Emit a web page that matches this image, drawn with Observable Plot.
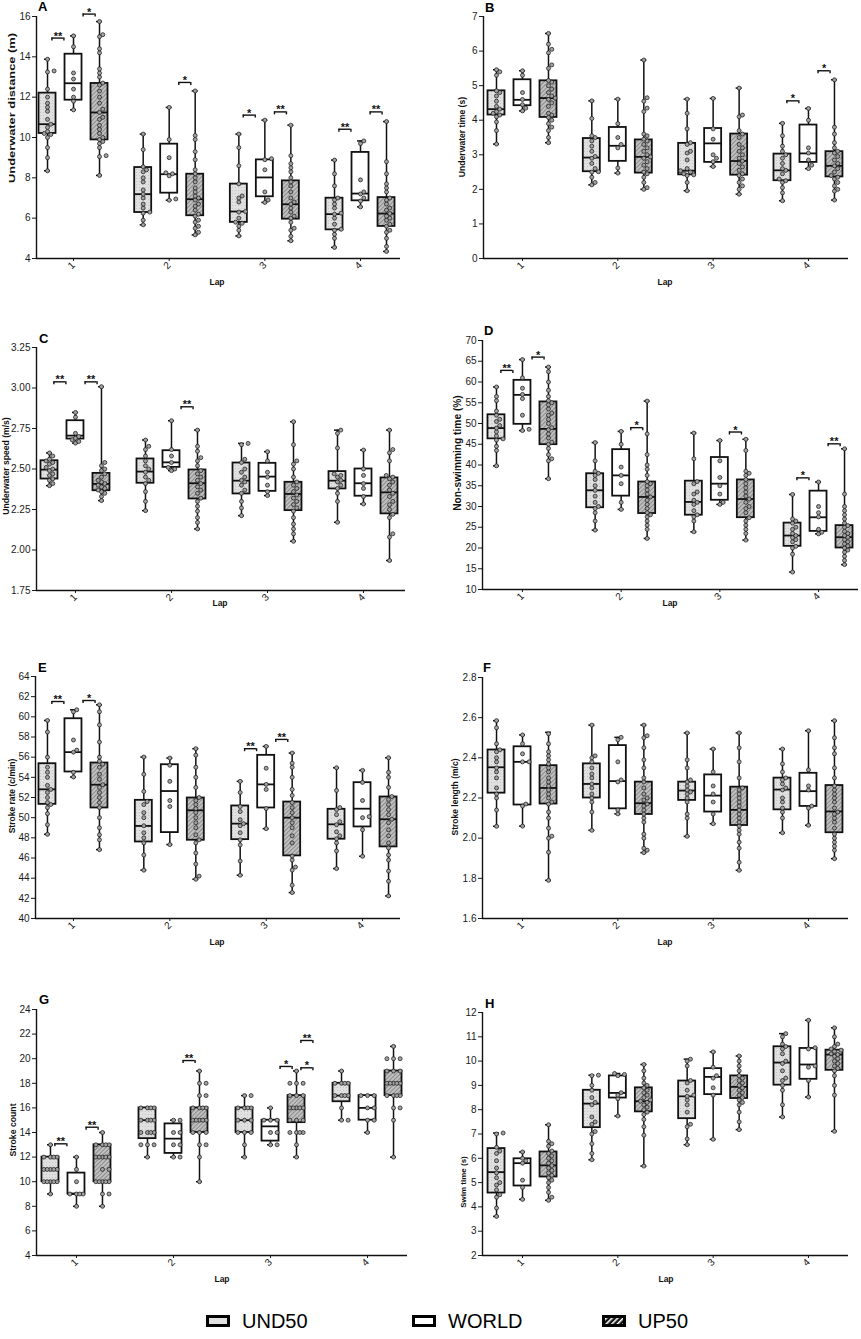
<!DOCTYPE html>
<html><head><meta charset="utf-8">
<script src="https://cdn.jsdelivr.net/npm/d3@7"></script>
<script src="https://cdn.jsdelivr.net/npm/@observablehq/plot@0.6"></script>
<style>
body{margin:0;background:#fff;}
#page{position:relative;width:861px;height:1339px;overflow:hidden;font-family:'Liberation Sans',Arial,sans-serif;}
.panel{position:absolute;}
#overlay{position:absolute;left:0;top:0;pointer-events:none;}
</style></head><body>
<svg width="0" height="0" style="position:absolute">
<defs>
<pattern id="pUnd" width="3" height="3" patternUnits="userSpaceOnUse"><rect width="3" height="3" fill="#e0e0e0"/><rect x="1" y="1" width="1" height="1" fill="#c6c6c6"/></pattern>
<pattern id="pUp" width="3" height="3" patternUnits="userSpaceOnUse" patternTransform="rotate(45)"><rect width="3" height="3" fill="#c0c0c0"/><rect width="1" height="3" fill="#8c8c8c"/></pattern>
<pattern id="pLeg" width="4" height="4" patternUnits="userSpaceOnUse" patternTransform="rotate(45)"><rect width="4" height="4" fill="#111"/><rect width="1.6" height="4" fill="#fff"/></pattern>
</defs>
</svg>
<div id="page"></div>
<script>
// ---------------- DATA ----------------
const laps = [1, 2, 3, 4];
const groups = ["UND50", "WORLD", "UP50"];
// stats rows: [lap, group, min, q1, median, q3, max]

// A: Underwater distance (m)
const labelA = "Underwater distance (m)";
const ticksA = [4, 6, 8, 10, 12, 14, 16];
const statsA = [
  [1,"UND50",8.35,10.2,10.66,12.2,13.88],[1,"WORLD",11.37,11.85,12.69,14.13,15.04],[1,"UP50",8.12,9.88,11.24,12.68,15.75],
  [2,"UND50",5.67,6.28,7.19,8.51,10.17],[2,"WORLD",6.89,7.24,8.18,9.67,11.49],[2,"UP50",5.17,6.12,6.94,8.18,12.31],
  [3,"UND50",5.12,5.79,6.33,7.69,10.17],[3,"WORLD",6.78,7.06,8.02,8.89,10.86],[3,"UP50",4.88,5.95,6.69,7.85,10.61],
  [4,"UND50",4.55,5.42,6.2,6.99,8.88],[4,"WORLD",6.56,6.86,7.22,9.26,9.83],[4,"UP50",4.35,5.59,6.23,7.02,10.79]
];
const ptsA = [
  [1,"UND50",[8.35,9.0,9.5,10.0,10.15,10.2,10.3,10.5,10.66,10.9,11.3,11.5,11.7,12.0,12.4,13.25,13.3,13.88]],
  [1,"WORLD",[11.37,11.8,12.0,12.4,12.9,13.2,14.5,15.04]],
  [1,"UP50",[8.12,9.05,9.1,9.5,9.7,9.8,9.9,10.0,10.2,10.4,10.6,10.9,11.0,11.24,11.4,11.7,12.0,12.3,12.6,12.7,13.0,13.2,13.4,14.2,14.4,15.0,15.1,15.75]],
  [2,"UND50",[5.67,5.9,6.25,6.3,6.5,6.7,7.0,7.19,7.4,7.8,8.0,8.3,8.4,8.55,9.4,10.17]],
  [2,"WORLD",[6.89,6.95,8.1,8.2,8.25,9.0,9.9,11.49]],
  [2,"UP50",[5.17,5.3,5.5,5.6,5.8,5.9,6.1,6.2,6.4,6.6,6.7,6.9,7.0,7.1,7.3,7.5,7.8,8.0,8.2,8.4,8.9,9.3,9.9,10.1,12.31]],
  [3,"UND50",[5.12,5.4,5.6,5.75,5.8,6.0,6.3,6.33,6.8,7.0,7.1,7.7,8.6,9.5,10.17]],
  [3,"WORLD",[6.78,6.9,7.3,8.4,8.9,8.95,10.86]],
  [3,"UP50",[4.88,5.1,5.4,5.5,5.8,6.0,6.1,6.3,6.5,6.7,6.8,7.0,7.3,7.6,7.8,8.0,8.3,8.5,8.7,9.1,10.61]],
  [4,"UND50",[4.55,5.0,5.2,5.4,5.45,5.7,6.0,6.2,6.25,6.5,6.7,6.9,7.0,7.6,8.2,8.88]],
  [4,"WORLD",[6.56,6.85,7.0,7.2,7.3,7.9,9.7,9.83]],
  [4,"UP50",[4.35,4.6,5.0,5.3,5.4,5.6,5.7,5.9,6.0,6.1,6.23,6.4,6.5,6.7,6.9,7.0,7.3,7.5,7.7,8.2,8.8,10.79]]
];
const sigA = [[1,"UW",14.93,"**"],[1,"WP",16.12,"*"],[2,"WP",12.73,"*"],[3,"UW",11.11,"*"],[3,"WP",11.27,"**"],[4,"UW",10.41,"**"],[4,"WP",11.27,"**"]];

// B: Underwater time (s)
const labelB = "Underwater time (s)";
const ticksB = [0, 1, 2, 3, 4, 5, 6, 7];
const statsB = [
  [1,"UND50",3.31,4.15,4.32,4.85,5.46],[1,"WORLD",4.27,4.42,4.59,5.17,5.43],[1,"UP50",3.35,4.08,4.64,5.14,6.51],
  [2,"UND50",2.13,2.51,2.92,3.47,4.56],[2,"WORLD",2.47,2.81,3.26,3.79,4.61],[2,"UP50",2.0,2.47,2.94,3.43,5.74],
  [3,"UND50",1.96,2.42,2.54,3.33,4.61],[3,"WORLD",2.66,2.78,3.33,3.76,4.63],[3,"UP50",1.86,2.41,2.82,3.6,4.93],
  [4,"UND50",1.67,2.25,2.55,3.02,3.91],[4,"WORLD",2.6,2.78,3.04,3.86,4.34],[4,"UP50",1.69,2.36,2.68,3.09,5.17]
];
const ptsB = [
  [1,"UND50",[3.31,3.7,3.95,4.1,4.15,4.2,4.25,4.32,4.4,4.55,4.7,4.8,4.85,5.3,5.4,5.46]],
  [1,"WORLD",[4.27,4.35,4.45,4.6,4.8,5.3,5.43]],
  [1,"UP50",[3.35,3.5,3.7,3.8,3.9,4.0,4.08,4.15,4.2,4.4,4.5,4.6,4.64,4.7,4.8,4.9,5.0,5.1,5.15,5.5,5.6,5.95,6.05,6.2,6.51]],
  [2,"UND50",[2.13,2.2,2.35,2.5,2.51,2.6,2.75,2.9,2.95,3.1,3.25,3.4,3.5,3.55,4.05,4.56]],
  [2,"WORLD",[2.47,2.62,3.2,3.3,3.5,3.9,4.61]],
  [2,"UP50",[2.0,2.05,2.2,2.35,2.45,2.5,2.6,2.7,2.8,2.9,2.94,3.0,3.1,3.2,3.3,3.4,3.45,3.55,3.6,4.25,4.35,4.55,4.65,5.74]],
  [3,"UND50",[1.96,2.2,2.4,2.42,2.45,2.5,2.54,2.6,2.85,3.05,3.1,3.3,3.35,3.75,4.2,4.61]],
  [3,"WORLD",[2.66,2.8,2.9,3.0,3.45,3.75,4.63]],
  [3,"UP50",[1.86,2.0,2.1,2.2,2.3,2.4,2.45,2.55,2.65,2.75,2.82,2.9,3.0,3.1,3.2,3.3,3.5,3.6,3.7,4.1,4.15,4.93]],
  [4,"UND50",[1.67,1.9,2.05,2.2,2.25,2.3,2.45,2.55,2.6,2.75,2.9,3.0,3.1,3.25,3.55,3.91]],
  [4,"WORLD",[2.6,2.7,2.85,3.05,3.2,4.0,4.34]],
  [4,"UP50",[1.69,1.95,2.0,2.1,2.2,2.3,2.35,2.4,2.5,2.6,2.68,2.75,2.85,2.95,3.05,3.1,3.2,3.35,3.6,3.8,5.17]]
];
const sigB = [[4,"UW",4.56,"*"],[4,"WP",5.43,"*"]];

// C: Underwater speed (m/s)
const labelC = "Underwater speed (m/s)";
const ticksC = [1.75, 2.0, 2.25, 2.5, 2.75, 3.0, 3.25];
const statsC = [
  [1,"UND50",2.397,2.438,2.496,2.551,2.599],[1,"WORLD",2.66,2.685,2.706,2.798,2.849],[1,"UP50",2.305,2.366,2.408,2.473,3.008],
  [2,"UND50",2.243,2.412,2.484,2.562,2.679],[2,"WORLD",2.49,2.51,2.541,2.613,2.798],[2,"UP50",2.13,2.315,2.412,2.494,2.74],
  [3,"UND50",2.212,2.346,2.428,2.537,2.658],[3,"WORLD",2.336,2.362,2.453,2.535,2.607],[3,"UP50",2.054,2.243,2.346,2.418,2.792],
  [4,"UND50",2.171,2.377,2.428,2.484,2.74],[4,"WORLD",2.284,2.332,2.412,2.5,2.617],[4,"UP50",1.935,2.223,2.356,2.445,2.74]
];
const ptsC = [
  [1,"UND50",[2.397,2.41,2.43,2.44,2.46,2.47,2.49,2.5,2.51,2.53,2.54,2.55,2.56,2.58,2.599]],
  [1,"WORLD",[2.66,2.67,2.68,2.69,2.70,2.72,2.82,2.849]],
  [1,"UP50",[2.305,2.33,2.35,2.36,2.37,2.38,2.39,2.40,2.41,2.42,2.43,2.45,2.47,2.49,2.50,2.52,2.54,3.008]],
  [2,"UND50",[2.243,2.3,2.36,2.41,2.43,2.45,2.48,2.5,2.52,2.55,2.58,2.62,2.64,2.679]],
  [2,"WORLD",[2.49,2.5,2.51,2.54,2.58,2.62,2.798]],
  [2,"UP50",[2.13,2.17,2.2,2.24,2.27,2.3,2.32,2.35,2.37,2.39,2.41,2.43,2.45,2.47,2.49,2.52,2.55,2.57,2.61,2.64,2.74]],
  [3,"UND50",[2.212,2.26,2.3,2.35,2.37,2.4,2.42,2.43,2.45,2.48,2.5,2.54,2.56,2.65,2.658]],
  [3,"WORLD",[2.336,2.36,2.4,2.45,2.48,2.55,2.607]],
  [3,"UP50",[2.054,2.1,2.13,2.16,2.2,2.24,2.26,2.28,2.3,2.32,2.34,2.36,2.38,2.4,2.42,2.45,2.5,2.53,2.55,2.65,2.792]],
  [4,"UND50",[2.171,2.3,2.35,2.38,2.4,2.42,2.43,2.45,2.46,2.47,2.63,2.72,2.74]],
  [4,"WORLD",[2.284,2.33,2.38,2.41,2.46,2.5,2.617]],
  [4,"UP50",[1.935,2.08,2.1,2.2,2.22,2.25,2.28,2.3,2.33,2.35,2.37,2.4,2.42,2.44,2.45,2.46,2.55,2.6,2.62,2.74]]
];
const sigC = [[1,"UW",3.038,"**"],[1,"WP",3.038,"**"],[2,"WP",2.884,"**"]];

// D: Non-swimming time (%)
const labelD = "Non-swimming time (%)";
const ticksD = [10, 15, 20, 25, 30, 35, 40, 45, 50, 55, 60, 65, 70];
const statsD = [
  [1,"UND50",39.8,46.3,48.9,52.1,58.8],[1,"WORLD",48.3,49.8,56.9,60.4,65.4],[1,"UP50",36.7,44.9,48.7,55.2,63.6],
  [2,"UND50",24.3,29.7,33.9,37.9,45.4],[2,"WORLD",29.3,32.5,37.5,43.7,48.1],[2,"UP50",22.3,28.3,32.3,35.9,55.4],
  [3,"UND50",23.9,27.9,31.1,36.1,47.7],[3,"WORLD",30.5,31.5,35.5,41.8,45.9],[3,"UP50",21.9,27.3,31.8,36.4,46.2],
  [4,"UND50",14.2,20.4,23.0,26.0,32.9],[4,"WORLD",23.4,24.0,27.4,33.7,35.9],[4,"UP50",16.0,20.0,22.6,25.4,43.9]
];
const ptsD = [
  [1,"UND50",[39.8,43.5,44.5,46,46.3,47,48,48.9,49.5,50.5,51,52,53,55.5,56.5,58.8]],
  [1,"WORLD",[48.3,48.6,52,56,57,58.5,61,65.4]],
  [1,"UP50",[36.7,41,41.5,42.5,44,45,45.5,46.5,47.5,48.5,49,50,51,52,52.5,53.5,54.5,55,55.5,56.5,58,60,62.5,63.6]],
  [2,"UND50",[24.3,26.5,28.5,29.5,30,31,32.5,33.9,35,36.5,37.5,38,38.5,41,45.4]],
  [2,"WORLD",[29.3,31,35.5,37.5,39.5,45,48.1]],
  [2,"UP50",[22.3,24.5,25.5,26.5,27.5,28,28.5,29.5,30.5,31.5,32.3,33,34,35,35.5,36,37.5,39,40,42.5,47.5,55.4]],
  [3,"UND50",[23.9,26.5,27.5,28,29,30.5,31,31.5,33,33.5,35.5,36,41.5,47.7]],
  [3,"WORLD",[30.5,31,33,35,37,41,45.9]],
  [3,"UP50",[21.9,23.5,24.5,25.5,26.5,27.3,28.5,29.5,30,31,31.8,32.5,33.5,34.5,35.5,36.5,37.5,38,38.5,43.5,46.2]],
  [4,"UND50",[14.2,18.5,20,20.4,21.5,22,22.5,23,23.5,24.5,25,26,26.5,27,32.9]],
  [4,"WORLD",[23.4,23.8,24.5,27.5,28.5,30,35.9]],
  [4,"UP50",[16.0,17,18,19,19.5,20,20.5,21,21.5,22,22.6,23,23.5,24,25,25.4,26,27,28,29,30,33,43.9]]
];
const sigD = [[1,"UW",62.8,"**"],[1,"WP",66.0,"*"],[2,"WP",49.0,"*"],[3,"WP",47.95,"*"],[4,"UW",36.9,"*"],[4,"WP",45.1,"**"]];

// E: Stroke rate (c/min)
const labelE = "Stroke rate (c/min)";
const ticksE = [40, 42, 44, 46, 48, 50, 52, 54, 56, 58, 60, 62, 64];
const statsE = [
  [1,"UND50",48.35,51.32,52.81,55.35,59.64],[1,"WORLD",54.03,54.53,56.5,59.81,60.7],[1,"UP50",46.83,50.96,53.27,55.42,61.19],
  [2,"UND50",44.79,47.59,49.18,51.72,56.01],[2,"WORLD",47.33,48.52,52.64,55.25,55.91],[2,"UP50",43.89,47.76,50.73,51.95,56.84],
  [3,"UND50",44.29,47.82,49.41,51.16,53.6],[3,"WORLD",48.91,50.96,53.3,56.18,57.07],[3,"UP50",42.57,46.21,50.0,51.55,56.41],
  [4,"UND50",44.95,47.86,49.34,50.83,54.95],[4,"WORLD",46.17,49.08,50.89,53.47,54.69],[4,"UP50",42.24,47.1,49.84,52.05,55.94]
];
const ptsE = [
  [1,"UND50",[48.35,49.3,50.4,51,51.3,51.5,52,52.5,52.8,53.2,54,54.5,55,56,58.5,59.64]],
  [1,"WORLD",[54.03,54.5,56.5,56.7,57.7,60.5,60.7]],
  [1,"UP50",[46.83,47.8,48.3,49,50,51,51.5,52,52.5,53,53.27,53.8,54.3,55,55.3,55.6,56,57.5,59.2,60.5,61.19]],
  [2,"UND50",[44.79,46.3,47.5,48,48.5,49.2,50,50.5,51.3,51.6,52.6,54.3,56.01]],
  [2,"WORLD",[47.33,51.1,51.7,53.6,55.2,55.91]],
  [2,"UP50",[43.89,44.2,45.4,46.5,47.5,47.8,48.3,49,49.5,50,50.5,50.9,51.3,51.7,52,53,54,55,56.2,56.84]],
  [3,"UND50",[44.29,45.7,47.3,47.8,48.5,49.2,49.4,49.8,50.6,51.1,52.5,53.6]],
  [3,"WORLD",[48.91,50.9,52.8,53.3,54.9,57.07]],
  [3,"UP50",[42.57,43.3,44.8,45.1,45.8,46.2,47.5,48.2,49,49.5,50,50.5,51,51.5,52.2,52.8,54,55,55.4,56.41]],
  [4,"UND50",[44.95,46.7,47.5,47.9,48.2,48.6,49.3,49.6,50.3,50.8,51,52.7,54.95]],
  [4,"WORLD",[46.17,48.8,50,50.1,51.7,53.5,54.69]],
  [4,"UP50",[42.24,43.7,44.7,45.8,46.3,47,47.5,48.2,48.8,49.5,49.84,50.3,50.8,51.3,51.8,52.1,53,54,54.5,55.94]]
];
const sigE = [[1,"UW",61.52,"**"],[1,"WP",61.62,"*"],[3,"UW",56.84,"**"],[3,"WP",57.76,"**"]];

// F: Stroke length (m/c)
const labelF = "Stroke length (m/c)";
const ticksF = [1.6, 1.8, 2.0, 2.2, 2.4, 2.6, 2.8];
const statsF = [
  [1,"UND50",2.059,2.224,2.353,2.439,2.585],[1,"WORLD",2.06,2.165,2.38,2.455,2.514],[1,"UP50",1.79,2.17,2.25,2.361,2.527],
  [2,"UND50",2.039,2.2,2.27,2.37,2.563],[2,"WORLD",2.121,2.146,2.284,2.461,2.502],[2,"UP50",1.928,2.118,2.174,2.279,2.563],
  [3,"UND50",2.009,2.188,2.237,2.279,2.524],[3,"WORLD",2.072,2.13,2.212,2.315,2.444],[3,"UP50",1.84,2.063,2.141,2.254,2.524],
  [4,"UND50",2.027,2.141,2.242,2.299,2.444],[4,"WORLD",2.064,2.158,2.234,2.323,2.535],[4,"UP50",1.898,2.027,2.133,2.262,2.585]
];
const ptsF = [
  [1,"UND50",[2.059,2.14,2.2,2.22,2.25,2.3,2.33,2.35,2.38,2.4,2.43,2.44,2.47,2.55,2.585]],
  [1,"WORLD",[2.06,2.16,2.17,2.38,2.38,2.42,2.47,2.514]],
  [1,"UP50",[1.79,1.93,2.0,2.01,2.05,2.1,2.13,2.17,2.18,2.2,2.22,2.24,2.26,2.28,2.3,2.33,2.35,2.37,2.39,2.41,2.43,2.47,2.52]],
  [2,"UND50",[2.039,2.13,2.18,2.2,2.22,2.25,2.27,2.3,2.32,2.35,2.38,2.4,2.41,2.563]],
  [2,"WORLD",[2.121,2.14,2.28,2.29,2.38,2.49,2.502]],
  [2,"UP50",[1.928,1.94,1.95,2.0,2.02,2.08,2.1,2.12,2.14,2.16,2.17,2.19,2.2,2.22,2.25,2.28,2.3,2.35,2.39,2.45,2.5,2.51,2.563]],
  [3,"UND50",[2.009,2.1,2.12,2.18,2.2,2.22,2.23,2.24,2.26,2.28,2.29,2.35,2.39,2.524]],
  [3,"WORLD",[2.072,2.12,2.18,2.22,2.26,2.33,2.444]],
  [3,"UP50",[1.84,1.88,1.95,1.98,2.02,2.04,2.06,2.08,2.1,2.12,2.14,2.16,2.18,2.2,2.22,2.24,2.25,2.3,2.38,2.45,2.524]],
  [4,"UND50",[2.027,2.1,2.13,2.15,2.18,2.2,2.24,2.25,2.27,2.29,2.3,2.33,2.37,2.444]],
  [4,"WORLD",[2.064,2.15,2.16,2.24,2.26,2.34,2.535]],
  [4,"UP50",[1.898,1.94,1.96,1.98,2.0,2.02,2.05,2.08,2.1,2.12,2.13,2.15,2.18,2.2,2.22,2.24,2.26,2.3,2.35,2.42,2.45,2.5,2.585]]
];
const sigF = [];

// G: Stroke count
const labelG = "Stroke count";
const ticksG = [4, 6, 8, 10, 12, 14, 16, 18, 20, 22, 24];
const statsG = [
  [1,"UND50",9,10,11,12,13],[1,"WORLD",8,9,9,10.7,12],[1,"UP50",8,10,12,13,14],
  [2,"UND50",12,13.5,15,16,16],[2,"WORLD",12,12.3,13.5,14.7,15],[2,"UP50",10,14,15,16,19],
  [3,"UND50",12,14,15,16,17],[3,"WORLD",13,13.3,14.5,15,16],[3,"UP50",12,14.8,16,17,19],
  [4,"UND50",15,16.5,17,18,19],[4,"WORLD",14,15,16,17,17],[4,"UP50",12,17,18,19,21]
];
const ptsG = [
  [1,"UND50",[9,10,10,10,10,10,11,11,11,11,11,12,12,12,12,13]],
  [1,"WORLD",[8,9,9,9,9,10,11,12]],
  [1,"UP50",[8,9,9,10,10,10,10,10,11,11,12,12,12,12,12,13,13,13,13,14]],
  [2,"UND50",[12,13,13,13,14,14,14,14,15,15,15,15,16,16,16,16]],
  [2,"WORLD",[12,12,13,13,14,14,15,15]],
  [2,"UP50",[10,12,13,13,14,14,14,15,15,15,15,15,16,16,16,16,17,17,18,18,19]],
  [3,"UND50",[12,13,14,14,14,15,15,15,16,16,16,16,17,17]],
  [3,"WORLD",[13,13,14,14,15,15,15,16]],
  [3,"UP50",[12,13,14,14,14,14,15,15,15,16,16,16,16,16,17,17,17,18,18,18,19]],
  [4,"UND50",[15,15,16,17,17,17,17,18,18,18,18,19]],
  [4,"WORLD",[14,15,15,16,16,17,17,17]],
  [4,"UP50",[12,15,16,16,17,17,17,17,18,18,18,18,18,19,19,19,20,20,20,21]]
];
const sigG = [[1,"UW",13.08,"**"],[1,"WP",14.43,"**"],[2,"WP",19.85,"**"],[3,"WP",19.37,"*"],[3,"P+",21.48,"**"],[3,"P+",19.26,"*"]];

// H: Swim time (s)
const labelH = "Swim time (s)";
const ticksH = [2, 3, 4, 5, 6, 7, 8, 9, 10, 11, 12];
const statsH = [
  [1,"UND50",3.61,4.57,5.43,6.4,7.04],[1,"WORLD",4.31,4.86,5.8,5.98,6.26],[1,"UP50",4.27,5.23,5.71,6.26,7.38],
  [2,"UND50",5.94,7.26,8.25,8.8,9.42],[2,"WORLD",7.74,8.48,8.69,9.39,9.49],[2,"UP50",5.68,7.91,8.35,8.9,9.86],
  [3,"UND50",6.56,7.63,8.55,9.18,10.08],[3,"WORLD",6.78,8.62,9.35,9.69,10.38],[3,"UP50",7.18,8.46,8.94,9.39,10.21],
  [4,"UND50",7.7,9.01,9.94,10.59,11.13],[4,"WORLD",8.52,9.25,9.86,10.52,11.68],[4,"UP50",7.11,9.62,10.27,10.45,11.37]
];
const ptsH = [
  [1,"UND50",[3.61,3.95,4.4,4.5,4.7,4.9,5.0,5.2,5.4,5.6,5.9,6.2,6.3,6.45,7.0,7.04]],
  [1,"WORLD",[4.31,4.8,5.1,5.8,5.9,6.0,6.26]],
  [1,"UP50",[4.27,4.4,4.6,4.8,5.0,5.1,5.2,5.3,5.4,5.5,5.6,5.7,5.8,5.9,6.0,6.1,6.2,6.3,6.5,6.6,6.7,7.38]],
  [2,"UND50",[5.94,6.2,6.6,7.0,7.1,7.4,7.5,7.7,8.2,8.3,8.5,8.8,9.0,9.4,9.42]],
  [2,"WORLD",[7.74,8.45,8.6,8.7,9.4,9.45,9.49]],
  [2,"UP50",[5.68,6.95,7.3,7.6,7.8,7.9,8.0,8.1,8.2,8.3,8.35,8.4,8.5,8.6,8.7,8.8,8.9,9.0,9.1,9.3,9.6,9.86]],
  [3,"UND50",[6.56,6.8,7.3,7.4,7.9,8.2,8.4,8.55,8.6,8.8,9.1,9.2,9.8,10.0,10.08]],
  [3,"WORLD",[6.78,8.6,8.9,9.3,9.4,9.75,10.38]],
  [3,"UP50",[7.18,7.5,7.9,8.2,8.3,8.4,8.5,8.6,8.7,8.8,8.9,9.0,9.1,9.2,9.3,9.4,9.6,9.8,10.0,10.21]],
  [4,"UND50",[7.7,8.2,8.8,9.0,9.2,9.3,9.6,9.9,10.0,10.3,10.5,10.6,10.7,11.0,11.13]],
  [4,"WORLD",[8.52,9.2,9.75,9.8,10.5,10.55,11.68]],
  [4,"UP50",[7.11,8.6,9.0,9.4,9.6,9.7,9.8,9.9,10.0,10.1,10.2,10.27,10.3,10.4,10.45,10.5,10.6,10.7,11.0,11.37]]
];
const sigH = [];

// ---------------- LAYOUT ----------------
const FONT = "'Liberation Sans', Arial, Helvetica, sans-serif";
const layout = {
  A: {left:0,   top:0,   ml:36, mt:16, bottom:258, right:400, xLo:0.613, xHi:4.418},
  B: {left:430, top:0,   ml:53, mt:16, bottom:258, right:418, xLo:0.591, xHi:4.42},
  C: {left:0,   top:320, ml:36, mt:27, bottom:270, right:405, xLo:0.594, xHi:4.4375},
  D: {left:430, top:320, ml:52, mt:20, bottom:269, right:428, xLo:0.595, xHi:4.405},
  E: {left:0,   top:640, ml:35, mt:36, bottom:278, right:400, xLo:0.606, xHi:4.394},
  F: {left:430, top:640, ml:52, mt:37, bottom:278, right:418, xLo:0.58,  xHi:4.42},
  G: {left:0,   top:960, ml:36, mt:49, bottom:295, right:407, xLo:0.588, xHi:4.412},
  H: {left:430, top:960, ml:52, mt:52, bottom:295, right:418, xLo:0.58,  xHi:4.42}
};
const groupSlot = {UND50: -1, WORLD: 0, UP50: 1};
const pairPos = {UW: -0.6, WP: 0.6, "P+": 1.4};
const fills = {UND50: "url(#pUnd)", WORLD: "#ffffff", UP50: "url(#pUp)"};

// simple beeswarm layout in pixel space
function swarm(vals, ypx, step, minD, maxK) {
  const placed = [], out = new Array(vals.length);
  const order = vals.map((v, i) => i).sort((a, b) => vals[a] - vals[b]);
  for (const i of order) {
    const y = ypx(vals[i]);
    let best = 0, bestScore = -Infinity;
    for (let k = 0; k <= maxK * 2; k++) {
      const off = k === 0 ? 0 : (k % 2 ? 1 : -1) * Math.ceil(k / 2) * step;
      let md = Infinity;
      for (const p of placed) { const d = Math.hypot(p.x - off, p.y - y); if (d < md) md = d; }
      if (md >= minD) { best = off; bestScore = Infinity; break; }
      if (md > bestScore) { bestScore = md; best = off; }
    }
    placed.push({x: best, y});
    out[i] = best;
  }
  return out;
}

function drawPanel(key, stats, pts, sig, ticks, fmt, yDomain) {
  const L = layout[key];
  const W = 430, H = L.bottom + 24;
  const pxPerLap = (L.right - L.ml) / (L.xHi - L.xLo);
  const u = px => px / pxPerLap;
  const [lo, hi] = yDomain;
  const ypx = v => L.mt + (hi - v) / (hi - lo) * (L.bottom - L.mt);
  const yu = (hi - lo) / (L.bottom - L.mt);
  const slot = u(26), hw = u(8.5), cw = u(3), bw = u(6);
  const boxes = stats.map(([lap, g, mn, q1, md, q3, mx]) => ({lap, g, mn, q1, md, q3, mx, xc: lap + groupSlot[g] * slot}));
  const dots = [];
  for (const [lap, g, vals] of pts) {
    const offs = swarm(vals, ypx, 3.3, 3.6, 3);
    vals.forEach((v, i) => dots.push({x: lap + groupSlot[g] * slot + u(offs[i]), v}));
  }
  const brs = sig.map(([lap, pair, y, label]) => ({xc: lap + pairPos[pair] * slot, y, label}));
  const ink = "#111";
  const marks = [
    Plot.ruleX(boxes, {x: "xc", y1: "mn", y2: "mx", stroke: ink, strokeWidth: 1.5}),
    Plot.ruleY(boxes, {y: "mx", x1: d => d.xc - cw, x2: d => d.xc + cw, stroke: ink, strokeWidth: 1.5}),
    Plot.ruleY(boxes, {y: "mn", x1: d => d.xc - cw, x2: d => d.xc + cw, stroke: ink, strokeWidth: 1.5})
  ];
  for (const g of groups) {
    marks.push(Plot.rect(boxes.filter(d => d.g === g), {x1: d => d.xc - hw, x2: d => d.xc + hw, y1: "q1", y2: "q3", fill: fills[g], stroke: ink, strokeWidth: 1.8}));
  }
  marks.push(
    Plot.ruleY(boxes, {y: "md", x1: d => d.xc - hw, x2: d => d.xc + hw, stroke: ink, strokeWidth: 1.8}),
    Plot.dot(dots, {x: "x", y: "v", r: 2.0, fill: "#a2a2a2", stroke: "#1c1c1c", strokeWidth: 0.75}),
    Plot.ruleY(brs, {y: "y", x1: d => d.xc - bw, x2: d => d.xc + bw, stroke: ink, strokeWidth: 1.4}),
    Plot.ruleX(brs, {x: d => d.xc - bw, y1: "y", y2: d => d.y - yu * 3, stroke: ink, strokeWidth: 1.4}),
    Plot.ruleX(brs, {x: d => d.xc + bw, y1: "y", y2: d => d.y - yu * 3, stroke: ink, strokeWidth: 1.4}),
    Plot.text(brs, {x: "xc", y: "y", text: "label", dy: -2, fontSize: 11, fontWeight: "bold", fill: ink}),
    Plot.ruleX([L.xLo], {stroke: ink, strokeWidth: 1.4}),
    Plot.ruleY([lo], {stroke: ink, strokeWidth: 1.4})
  );
  const svg = Plot.plot({
    width: W, height: H,
    marginLeft: L.ml, marginRight: W - L.right, marginTop: L.mt, marginBottom: H - L.bottom,
    x: {domain: [L.xLo, L.xHi], ticks: laps, tickFormat: d => String(d), tickRotate: -45, tickSize: 3, tickPadding: 2, label: null},
    y: {domain: yDomain, ticks: ticks, tickFormat: fmt, tickSize: 4, tickPadding: 2, label: null},
    style: {fontFamily: FONT, fontSize: "10px", color: "#1a1a1a", background: "transparent", overflow: "visible"},
    marks
  });
  const div = document.createElement("div");
  div.className = "panel";
  div.style.left = L.left + "px";
  div.style.top = L.top + "px";
  div.appendChild(svg);
  document.getElementById("page").appendChild(div);
}

const fInt = d3.format("d"), f2 = d3.format(".2f"), f1 = d3.format(".1f");
drawPanel("A", statsA, ptsA, sigA, ticksA, fInt, [4, 16]);
drawPanel("B", statsB, ptsB, sigB, ticksB, fInt, [0, 7]);
drawPanel("C", statsC, ptsC, sigC, ticksC, f2, [1.75, 3.25]);
drawPanel("D", statsD, ptsD, sigD, ticksD, fInt, [10, 70]);
drawPanel("E", statsE, ptsE, sigE, ticksE, fInt, [40, 64]);
drawPanel("F", statsF, ptsF, sigF, ticksF, f1, [1.6, 2.8]);
drawPanel("G", statsG, ptsG, sigG, ticksG, fInt, [4, 24]);
drawPanel("H", statsH, ptsH, sigH, ticksH, fInt, [2, 12]);

// ---------------- TEXT OVERLAY (letters, axis titles, legend) ----------------
const NS = "http://www.w3.org/2000/svg";
const ov = document.createElementNS(NS, "svg");
ov.setAttribute("id", "overlay");
ov.setAttribute("width", 861); ov.setAttribute("height", 1339);
document.getElementById("page").appendChild(ov);
function txt(s, x, y, attrs) {
  const t = document.createElementNS(NS, "text");
  t.textContent = s;
  t.setAttribute("x", x); t.setAttribute("y", y);
  t.setAttribute("font-family", FONT);
  for (const k in attrs) t.setAttribute(k, attrs[k]);
  ov.appendChild(t);
  return t;
}
const letters = [["A",38,11],["B",485,12],["C",39,343],["D",484,335],["E",38,672],["F",483,672],["G",39,1004],["H",485,1008]];
for (const [s, x, y] of letters) txt(s, x, y, {"font-size": 13, "font-weight": "bold", fill: "#000"});

const ylabels = [
  [labelA, 11, 108, 9.5, 150], [labelB, 462, 137, 8.6, null], [labelC, 6, 466, 8.6, null], [labelD, 457, 453, 10.2, null],
  [labelE, 12, 796, 8.5, null], [labelF, 455, 797, 8.5, null], [labelG, 13, 1130, 8.7, null], [labelH, 463, 1182, 8, null]
];
for (const [s, x, y, fs, len] of ylabels) {
  const a = {"font-size": fs, "font-weight": "bold", fill: "#111", "text-anchor": "middle", "dominant-baseline": "central",
             transform: `rotate(-90 ${x} ${y})`};
  if (len) { a.textLength = len; a.lengthAdjust = "spacingAndGlyphs"; }
  txt(s, x, y, a);
}
const lapLabels = [[217,282],[665,282],[220,603],[670,603],[217,942],[665,942],[222,1279],[666,1279]];
for (const [x, y] of lapLabels) txt("Lap", x, y, {"font-size": 8.5, "font-weight": "bold", fill: "#111", "text-anchor": "middle", "dominant-baseline": "central"});

// legend
const legendItems = [["UND50", 206, "#e0e0e0"], ["WORLD", 412, "#ffffff"], ["UP50", 602, "url(#pLeg)"]];
for (const [name, x, fill] of legendItems) {
  const r = document.createElementNS(NS, "rect");
  r.setAttribute("x", x + 1.5); r.setAttribute("y", 1316.5);
  r.setAttribute("width", 21); r.setAttribute("height", 9);
  r.setAttribute("fill", fill); r.setAttribute("stroke", "#000"); r.setAttribute("stroke-width", 3);
  ov.appendChild(r);
  txt(name, x + 36, 1328, {"font-size": 20, fill: "#000"});
}
</script>
</body></html>
